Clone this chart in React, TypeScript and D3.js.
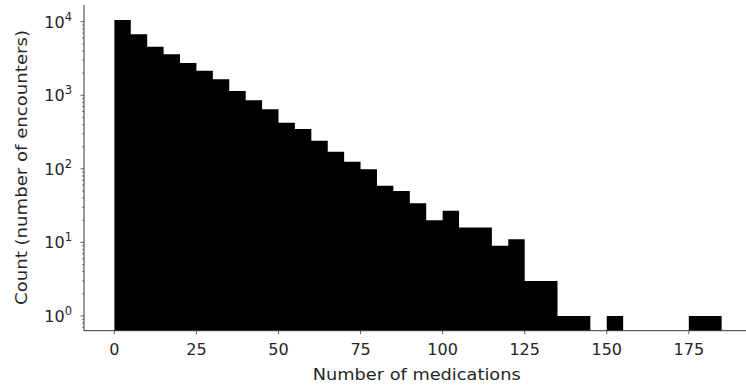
import React from 'react';
import * as d3 from 'd3';

// histogram: bins of width 5 starting at 0
const binStart = 0;
const binWidth = 5;
const counts = [
  10550, 6740, 4580, 3600, 2750, 2160, 1650, 1140, 855, 645,
  424, 348, 241, 171, 125, 99, 59, 50, 34, 20,
  27, 16, 16, 9, 11, 3, 3, 1, 1, 0,
  1, 0, 0, 0, 0, 1, 1,
];
const xTicks = [0, 25, 50, 75, 100, 125, 150, 175];
const yDecades = [0, 1, 2, 3, 4];
const xLabel = 'Number of medications';
const yLabel = 'Count (number of encounters)';

const width = 746;
const height = 387;
const font = '"DejaVu Sans", sans-serif';

export default function App() {
  const left = 84;
  const bottom = 330.7;
  const top = 5;

  const x = d3.scaleLinear().domain([-9.25, 194.25]).range([left, 752]);
  const y = d3.scaleLog().domain([Math.pow(10, -0.2), Math.pow(10, 4.227)]).range([bottom, top]);

  const bins = counts.map((c, i) => ({
    x0: binStart + i * binWidth,
    x1: binStart + (i + 1) * binWidth,
    count: c,
  }));

  // one step-shaped area per run of non-empty bins, so no seams between bars
  const runs: { x0: number; x1: number; count: number }[][] = [];
  let cur: { x0: number; x1: number; count: number }[] = [];
  bins.forEach(b => {
    if (b.count > 0) cur.push(b);
    else if (cur.length) { runs.push(cur); cur = []; }
  });
  if (cur.length) runs.push(cur);

  const area = d3.area<[number, number]>()
    .x(d => x(d[0]))
    .y0(bottom)
    .y1(d => y(d[1]))
    .curve(d3.curveStepAfter);

  const runPoints = (run: typeof cur): [number, number][] => {
    const pts: [number, number][] = run.map(b => [b.x0, b.count]);
    pts.push([run[run.length - 1].x1, run[run.length - 1].count]);
    return pts;
  };

  // minor ticks 2..9 per decade inside the visible range
  const minor: number[] = [];
  for (let d = -1; d <= 4; d++) {
    for (let m = 2; m <= 9; m++) {
      const v = m * Math.pow(10, d);
      if (v >= y.domain()[0] && v <= y.domain()[1]) minor.push(v);
    }
  }

  return (
    <div style={{ position: 'absolute', left: 0, top: 0 }}>
      <svg width={width} height={height} style={{ display: 'block', background: '#fff' }}>
        <g>
          {runs.map((run, i) => (
            <path key={i} d={area(runPoints(run)) || ''} fill="#000" />
          ))}
        </g>

        {/* y axis */}
        <line x1={left} x2={left} y1={top} y2={bottom} stroke="#333" strokeWidth={1} />
        {minor.map((v, i) => (
          <line key={'m' + i} x1={left - 2} x2={left} y1={y(v)} y2={y(v)} stroke="#333" strokeWidth={0.6} />
        ))}
        {yDecades.map(d => (
          <g key={'y' + d}>
            <line x1={left - 3.5} x2={left} y1={y(Math.pow(10, d))} y2={y(Math.pow(10, d))} stroke="#333" strokeWidth={0.8} />
            <text
              x={72}
              y={y(Math.pow(10, d)) + 6}
              textAnchor="end"
              fontFamily={font}
              fontSize={16}
              fill="#262626"
            >
              10<tspan dy={-7} fontSize={11.5}>{d}</tspan>
            </text>
          </g>
        ))}

        {/* x axis */}
        <line x1={left} x2={width} y1={bottom} y2={bottom} stroke="#333" strokeWidth={1} />
        {xTicks.map(t => (
          <g key={'x' + t}>
            <line x1={x(t)} x2={x(t)} y1={bottom} y2={bottom + 3.5} stroke="#333" strokeWidth={0.8} />
            <text x={x(t)} y={355} textAnchor="middle" fontFamily={font} fontSize={16} fill="#262626">
              {t}
            </text>
          </g>
        ))}

        <text
          x={416.7}
          y={380}
          textAnchor="middle"
          fontFamily={font}
          fontSize={16.5}
          fill="#262626"
          textLength={208}
          lengthAdjust="spacingAndGlyphs"
        >
          {xLabel}
        </text>
        <text
          transform={`translate(27,167.5) rotate(-90)`}
          textAnchor="middle"
          fontFamily={font}
          fontSize={16.5}
          fill="#262626"
          textLength={275}
          lengthAdjust="spacingAndGlyphs"
        >
          {yLabel}
        </text>
      </svg>
    </div>
  );
}
